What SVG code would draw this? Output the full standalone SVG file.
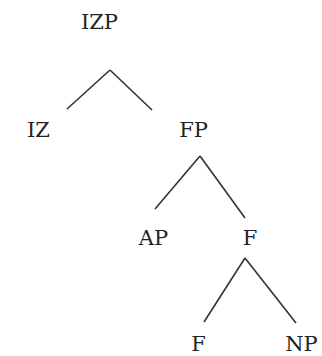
<svg xmlns="http://www.w3.org/2000/svg" width="322" height="356" viewBox="0 0 322 356">
<style>
text{font-family:"DejaVu Serif","Liberation Serif",serif;font-size:21px;fill:#222;text-anchor:middle}
.e{stroke:#333;stroke-width:1.6;fill:none;stroke-linecap:butt}
</style>
<rect width="322" height="356" fill="#fff"/>
<g id="connectors">
<line class="e" x1="110" y1="70" x2="67" y2="109"/>
<line class="e" x1="110" y1="70" x2="152" y2="110"/>
<line class="e" x1="200" y1="156" x2="155" y2="209"/>
<line class="e" x1="200" y1="156" x2="245" y2="218"/>
<line class="e" x1="245" y1="258" x2="204" y2="322"/>
<line class="e" x1="245" y1="258" x2="296" y2="323"/>
</g>
<g id="IZP"><text x="99.5" y="29">IZP</text></g>
<g id="IZ"><text x="38.5" y="137">IZ</text></g>
<g id="FP"><text x="193.5" y="137">FP</text></g>
<g id="AP"><text x="153.5" y="245">AP</text></g>
<g id="F1"><text x="250" y="245">F</text></g>
<g id="F2"><text x="198.5" y="351">F</text></g>
<g id="NP"><text x="301.5" y="351">NP</text></g>
</svg>
